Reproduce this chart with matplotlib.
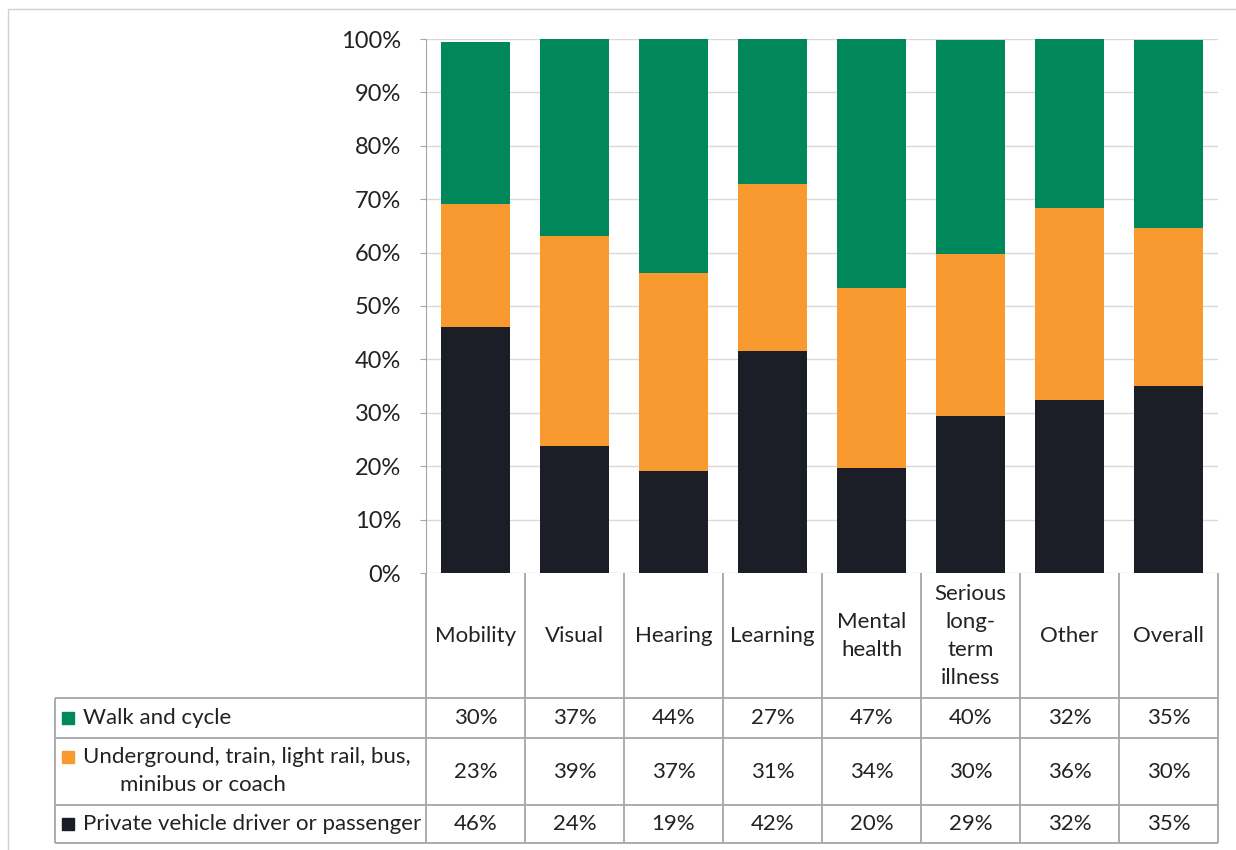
import numpy as np
import matplotlib.pyplot as plt
from matplotlib.patches import Rectangle

plt.rcParams['font.family'] = ['Lato', 'DejaVu Sans']

categories = ['Mobility', 'Visual', 'Hearing', 'Learning', 'Mental\nhealth',
              'Serious\nlong-\nterm\nillness', 'Other', 'Overall']
private_vehicle = [46.1, 23.8, 19.1, 41.6, 19.7, 29.4, 32.4, 35.0]
public_transport = [23.0, 39.3, 37.1, 31.2, 33.7, 30.3, 36.0, 29.6]
walk_cycle = [30.3, 36.9, 43.8, 27.2, 46.6, 40.1, 31.6, 35.2]

walk_labels = ['30%', '37%', '44%', '27%', '47%', '40%', '32%', '35%']
public_labels = ['23%', '39%', '37%', '31%', '34%', '30%', '36%', '30%']
private_labels = ['46%', '24%', '19%', '42%', '20%', '29%', '32%', '35%']

series_names = ['Walk and cycle',
                'Underground, train, light rail, bus,\nminibus or coach',
                'Private vehicle driver or passenger']
green, orange, black = '#00875a', '#f89a2f', '#1b1e27'
grid_col = '#d9d9d9'
line_col = '#a6a6a6'
text_col = '#222222'

W, H = 1236, 850
fig = plt.figure(figsize=(W / 100, H / 100), dpi=100)

# outer chart border (partly cut off)
fig.patches.append(Rectangle((8 / W, -0.1), 1.2, (850 - 9) / H + 0.1,
                             transform=fig.transFigure, fill=False,
                             edgecolor='#d0d0d0', lw=1))

ax = fig.add_axes([426 / W, (H - 573) / H, (1218 - 426) / W, (573 - 39) / H])
x = np.arange(len(categories))
bw = 0.69
ax.bar(x, private_vehicle, bw, color=black, zorder=3)
ax.bar(x, public_transport, bw, bottom=private_vehicle, color=orange, zorder=3)
bottom2 = np.array(private_vehicle) + np.array(public_transport)
ax.bar(x, walk_cycle, bw, bottom=bottom2, color=green, zorder=3)

ax.set_xlim(-0.5, len(categories) - 0.5)
ax.set_ylim(0, 100)
ax.set_yticks(np.arange(0, 101, 10))
ax.set_yticklabels([f'{v}%' for v in range(0, 101, 10)])
ax.yaxis.grid(True, color=grid_col, lw=1, zorder=0)
ax.set_xticks([])
for s in ['top', 'right', 'bottom']:
    ax.spines[s].set_visible(False)
ax.spines['left'].set_color(line_col)
ax.tick_params(axis='y', length=4, color=line_col, pad=14, labelsize=17,
               labelcolor=text_col)

# data table below the chart
ncol = len(categories)
left_w = (426 - 55) / 99
tab = fig.add_axes([55 / W, (H - 843) / H, (1218 - 55) / W, (843 - 573) / H])
tab.set_xlim(-0.5 - left_w, ncol - 0.5)
tab.set_ylim(843, 573)
tab.axis('off')

row_edges = [573, 698, 738, 805, 843]
lk = dict(color=line_col, lw=1.3, solid_capstyle='butt', clip_on=False)
for xe in np.arange(-0.5, ncol, 1):
    tab.plot([xe, xe], [573, 843], **lk)
tab.plot([-0.5 - left_w, -0.5 - left_w], [698, 843], **lk)
for ye in row_edges[1:]:
    tab.plot([-0.5 - left_w, ncol - 0.5], [ye, ye], **lk)

fs = 16
for i, c in enumerate(categories):
    tab.text(i, 635.5, c, ha='center', va='center', fontsize=fs,
             color=text_col, linespacing=1.5)

row_centers = [718, 771.5, 824]
row_labels = [walk_labels, public_labels, private_labels]
for yc, labels in zip(row_centers, row_labels):
    for i, lab in enumerate(labels):
        tab.text(i, yc, lab, ha='center', va='center', fontsize=fs,
                 color=text_col)

# legend keys in the row headers
px = 1 / 99
key_x = -0.5 - left_w + 7 * px
text_x = -0.5 - left_w + 28 * px
for yc, name, col in zip([718, 757, 824], series_names, [green, orange, black]):
    tab.add_patch(Rectangle((key_x, yc - 6), 12 * px, 12, color=col,
                            clip_on=False))
    first = name.split('\n')[0]
    tab.text(text_x, yc, first, ha='left', va='center', fontsize=fs,
             color=text_col)
tab.text(-0.5 - left_w + 148 * px, 785, 'minibus or coach', ha='center',
         va='center', fontsize=fs, color=text_col)

fig.savefig('out.png', dpi=100)
